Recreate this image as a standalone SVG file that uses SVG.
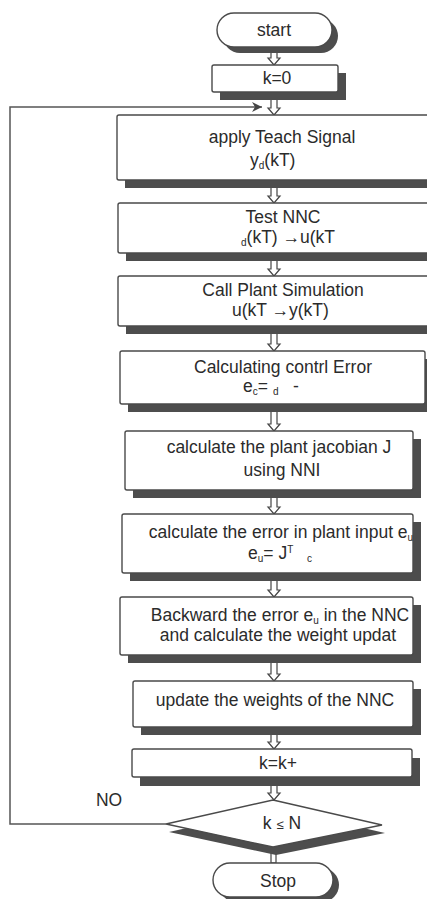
<svg xmlns="http://www.w3.org/2000/svg" width="427" height="899" viewBox="0 0 427 899">
<style>
  .bg{fill:#ffffff}
  .box{fill:#ffffff;stroke:#4a4a4a;stroke-width:1.4}
  .sh{fill:#4d4d4d}
  .t{font-family:"Liberation Sans",Arial,sans-serif;font-size:17.5px;fill:#2b2b2b;text-anchor:middle}
  .ts{font-family:"Liberation Sans",Arial,sans-serif;font-size:17.5px;fill:#2b2b2b}
  .sub{font-size:10px}
  .arr{fill:#ffffff;stroke:#444;stroke-width:1.2;stroke-linejoin:miter}
  .line{fill:none;stroke:#555;stroke-width:1.5}
</style>
<rect class="bg" x="0" y="0" width="427" height="899"/>

<g id="connectors">
  <polyline class="line" points="166,824 10,824 10,107 262,107"/>
  <path d="M262,107 L252,102 L255,107 L252,112 Z" fill="#444"/>
  <path class="arr" d="M271,47 V58 H268 L274,65 L280,58 H277 V47 Z"/>
  <path class="arr" d="M271,92 V108 H268 L274,115 L280,108 H277 V92 Z"/>
  <path class="arr" d="M271,180 V196 H268 L274,203 L280,196 H277 V180 Z"/>
  <path class="arr" d="M271,253 V269 H268 L274,276 L280,269 H277 V253 Z"/>
  <path class="arr" d="M271,326 V344 H268 L274,351 L280,344 H277 V326 Z"/>
  <path class="arr" d="M271,404 V424 H268 L274,431 L280,424 H277 V404 Z"/>
  <path class="arr" d="M271,490 V507 H268 L274,514 L280,507 H277 V490 Z"/>
  <path class="arr" d="M271,573 V590 H268 L274,597 L280,590 H277 V573 Z"/>
  <path class="arr" d="M271,655 V674 H268 L274,681 L280,674 H277 V655 Z"/>
  <path class="arr" d="M271,727 V742 H268 L274,749 L280,742 H277 V727 Z"/>
  <path class="arr" d="M271,777 V793 H268 L274,800 L280,793 H277 V777 Z"/>
  <rect class="arr" x="271" y="847" width="5" height="16"/>
</g>

<g id="start">
  <rect class="sh" x="223" y="19" width="115" height="34" rx="17"/>
  <rect class="box" x="217" y="13" width="115" height="34" rx="17"/>
  <text class="t" x="274" y="36">start</text>
</g>

<g id="k0">
  <rect class="sh" x="220" y="73" width="126" height="27"/>
  <rect class="box" x="212" y="65" width="126" height="27" rx="2"/>
  <text class="t" x="277" y="84">k=0</text>
</g>

<g id="teach">
  <rect class="sh" x="125" y="123" width="330" height="65"/>
  <rect class="box" x="117" y="115" width="330" height="65" rx="2"/>
  <text class="t" x="282" y="143">apply Teach Signal</text>
  <text class="ts" x="250" y="166">y<tspan class="sub" dy="3">d</tspan><tspan dy="-3">(kT)</tspan></text>
</g>

<g id="testnnc">
  <rect class="sh" x="126" y="211" width="330" height="50"/>
  <rect class="box" x="118" y="203" width="330" height="50" rx="2"/>
  <text class="t" x="283" y="223">Test NNC</text>
  <text class="ts" x="241" y="243"><tspan class="sub" dy="3">d</tspan><tspan dy="-3">(kT) →u(kT</tspan></text>
</g>

<g id="plant">
  <rect class="sh" x="126" y="284" width="330" height="50"/>
  <rect class="box" x="118" y="276" width="330" height="50" rx="2"/>
  <text class="t" x="283" y="296">Call Plant Simulation</text>
  <text class="ts" x="232" y="316">u(kT  →y(kT)</text>
</g>

<g id="ctrlerr">
  <rect class="sh" x="128" y="359" width="305" height="53"/>
  <rect class="box" x="120" y="351" width="305" height="53" rx="2"/>
  <text class="t" x="283" y="373">Calculating contrl Error</text>
  <text class="ts" x="243" y="392">e<tspan class="sub" dy="3">c</tspan><tspan dy="-3">=</tspan></text>
  <text class="ts" x="273" y="395"><tspan class="sub">d</tspan></text>
  <text class="ts" x="293" y="392">-</text>
</g>

<g id="jacobian">
  <rect class="sh" x="133" y="439" width="288" height="59"/>
  <rect class="box" x="125" y="431" width="288" height="59" rx="2"/>
  <text class="t" x="279" y="453">calculate the plant jacobian J</text>
  <text class="t" x="282" y="476">using NNI</text>
</g>

<g id="inputerr">
  <rect class="sh" x="130" y="522" width="291" height="59"/>
  <rect class="box" x="122" y="514" width="291" height="59" rx="2"/>
  <text class="t" x="281" y="538">calculate the error in plant input e<tspan class="sub" dy="3">u</tspan></text>
  <text class="ts" x="248" y="559">e<tspan class="sub" dy="3">u</tspan><tspan dy="-3">= J</tspan><tspan class="sub" dy="-6">T</tspan></text>
  <text class="ts" x="307" y="562"><tspan class="sub">c</tspan></text>
</g>

<g id="backward">
  <rect class="sh" x="128" y="605" width="293" height="58"/>
  <rect class="box" x="120" y="597" width="293" height="58" rx="2"/>
  <text class="t" x="280" y="621">Backward the error e<tspan class="sub" dy="3">u</tspan><tspan dy="-3"> in the NNC</tspan></text>
  <text class="t" x="278" y="641">and calculate the weight updat</text>
</g>

<g id="update">
  <rect class="sh" x="141" y="689" width="280" height="46"/>
  <rect class="box" x="133" y="681" width="280" height="46" rx="2"/>
  <text class="t" x="275" y="706">update the weights of the NNC</text>
</g>

<g id="kinc">
  <rect class="sh" x="140" y="758" width="280" height="28"/>
  <rect class="box" x="132" y="749" width="280" height="28" rx="2"/>
  <text class="t" x="278" y="769">k=k+</text>
</g>

<g id="decision">
  <polygon class="sh" points="276,808 385,833 276,855 169,832"/>
  <polygon class="box" points="273,800 382,825 273,847 166,824"/>
  <text class="t" x="282" y="829">k <tspan font-size="13">≤</tspan> N</text>
  <text class="t" x="109" y="806">NO</text>
</g>

<g id="stop">
  <rect class="sh" x="219" y="868" width="120" height="34" rx="17"/>
  <rect class="box" x="213" y="863" width="120" height="34" rx="17"/>
  <text class="t" x="278" y="887">Stop</text>
</g>
</svg>
